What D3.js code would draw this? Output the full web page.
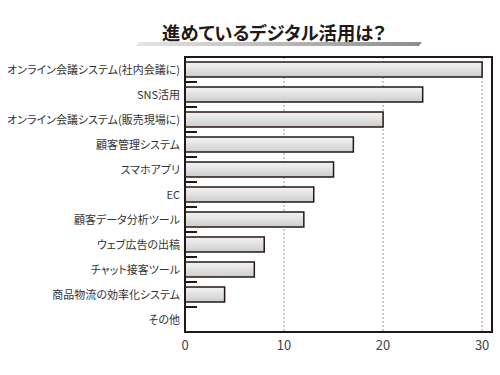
<!DOCTYPE html>
<meta charset="UTF-8">
<style>
  body { margin: 0; background: #fff; }
  text { font-family: "Noto Sans CJK JP", "Noto Sans", sans-serif; font-feature-settings: "palt"; }
</style>
<svg width="500" height="375"></svg>
<script src="https://d3js.org/d3.v7.min.js"></script>
<script>

var categories = ["オンライン会議システム(社内会議に)", "SNS活用", "オンライン会議システム(販売現場に)",
  "顧客管理システム", "スマホアプリ", "EC", "顧客データ分析ツール", "ウェブ広告の出稿",
  "チャット接客ツール", "商品物流の効率化システム", "その他"];
var values = [30, 24, 20, 17, 15, 13, 12, 8, 7, 4, 0];
var xTicks = [0, 10, 20, 30];
var title = "進めているデジタル活用は？";

var svg = d3.select("svg"),
    margin = {top: 57, right: 8, bottom: 43, left: 185},
    width = 500 - margin.left - margin.right,
    height = 375 - margin.top - margin.bottom,
    ink = "#231815";

var defs = svg.append("defs");
var barGrad = defs.append("linearGradient").attr("id", "barGrad")
    .attr("x1", 0).attr("y1", 0).attr("x2", 0).attr("y2", 1);
barGrad.append("stop").attr("offset", "0%").attr("stop-color", "#f4f4f4");
barGrad.append("stop").attr("offset", "100%").attr("stop-color", "#cdcdcd");

var lineGrad = defs.append("linearGradient").attr("id", "lineGrad");
lineGrad.append("stop").attr("offset", "0%").attr("stop-color", "#e6e6e6");
lineGrad.append("stop").attr("offset", "100%").attr("stop-color", "#8c8c8c");

// title with slanted underline
svg.append("path")
    .attr("d", "M136,46 L419,46 L422,42 L139,42 Z")
    .attr("fill", "url(#lineGrad)");
svg.append("text")
    .attr("x", 274).attr("y", 40)
    .attr("text-anchor", "middle")
    .attr("font-size", 18.3).attr("font-weight", "bold")
    .attr("fill", "#231815")
    .text(title);

var g = svg.append("g").attr("transform", "translate(" + margin.left + "," + margin.top + ")");

var x = d3.scaleLinear().domain([0, 31]).range([0, width]);
var y = d3.scaleBand().domain(categories).range([0, height]);

// grid lines
g.selectAll(".grid").data(xTicks.slice(1)).enter().append("line")
    .attr("x1", d => x(d)).attr("x2", d => x(d))
    .attr("y1", 0).attr("y2", height)
    .attr("stroke", "#999").attr("stroke-width", 1)
    .attr("stroke-dasharray", "2,2");

// bars
g.selectAll(".bar").data(categories).enter().append("rect")
    .filter((d, i) => values[i] > 0)
    .attr("x", x(0))
    .attr("y", d => y(d) + 5)
    .attr("width", d => x(values[categories.indexOf(d)]) - x(0))
    .attr("height", 15)
    .attr("fill", "url(#barGrad)")
    .attr("stroke", ink).attr("stroke-width", 1.5);

// small ticks at band boundaries
g.selectAll(".tk").data(categories.slice(1)).enter().append("line")
    .attr("x1", 0).attr("x2", 12)
    .attr("y1", d => y(d)).attr("y2", d => y(d))
    .attr("stroke", ink).attr("stroke-width", 2);

// frame
g.append("rect")
    .attr("width", width).attr("height", height)
    .attr("fill", "none").attr("stroke", ink).attr("stroke-width", 2);

// category labels
g.selectAll(".lab").data(categories).enter().append("text")
    .attr("x", -5)
    .attr("y", d => y(d) + y.bandwidth() / 2 + 4)
    .attr("text-anchor", "end")
    .attr("font-size", 11).attr("fill", "#333")
    .text(d => d);

// x tick labels
g.selectAll(".xl").data(xTicks).enter().append("text")
    .attr("x", d => x(d))
    .attr("y", height + 18)
    .attr("text-anchor", "middle")
    .attr("font-size", 13).attr("fill", "#444")
    .text(d => d);

</script>
